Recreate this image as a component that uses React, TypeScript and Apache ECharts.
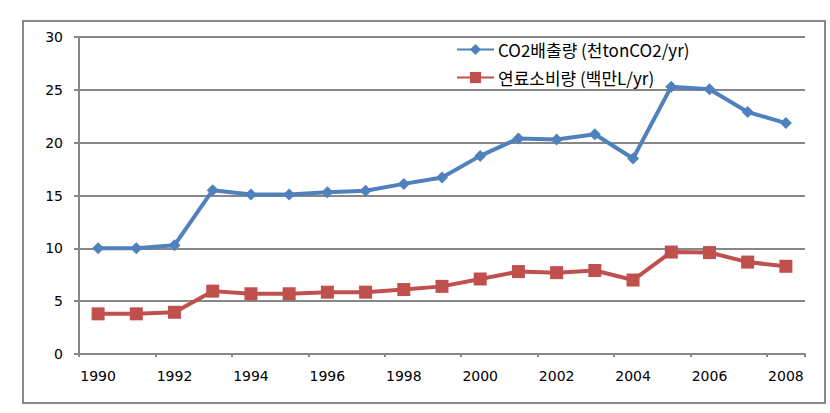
import React, { useEffect, useRef } from "react";
import * as echarts from "echarts";

const years = ["1990","1991","1992","1993","1994","1995","1996","1997","1998","1999","2000","2001","2002","2003","2004","2005","2006","2007","2008"];
const co2 = [10.0, 10.0, 10.3, 15.5, 15.1, 15.1, 15.3, 15.45, 16.1, 16.7, 18.75, 20.4, 20.3, 20.8, 18.5, 25.3, 25.05, 22.9, 21.85];
const fuel = [3.8, 3.8, 3.95, 5.95, 5.7, 5.7, 5.85, 5.85, 6.1, 6.4, 7.1, 7.8, 7.7, 7.9, 7.0, 9.65, 9.6, 8.7, 8.3];
const seriesNames = ["CO2배출량 (천tonCO2/yr)", "연료소비량 (백만L/yr)"];

export default function App() {
  const ref = useRef<HTMLDivElement>(null);
  useEffect(() => {
    const chart = echarts.init(ref.current!, null, { renderer: "svg" });
    const gray = "#878787";
    chart.setOption({
      animation: false,
      backgroundColor: "#ffffff",
      textStyle: { fontFamily: "DejaVu Sans" },
      graphic: [
        {
          type: "rect",
          shape: { x: 23, y: 21, width: 802, height: 382 },
          style: { fill: "none", stroke: "#8a8a8a", lineWidth: 2 },
          silent: true,
        },
      ],
      grid: { left: 79, right: 25, top: 37, bottom: 59 },
      legend: {
        orient: "vertical",
        left: 451,
        top: 32,
        itemWidth: 37,
        itemHeight: 14,
        itemGap: 3,
        textStyle: {
          fontFamily: "Noto Sans CJK KR",
          fontSize: 17,
          color: "#000",
          lineHeight: 17,
          padding: [8, 0, 0, -1],
        },
        data: seriesNames,
      },
      xAxis: {
        type: "category",
        data: years,
        boundaryGap: true,
        axisLine: { lineStyle: { color: gray, width: 2 } },
        axisTick: { show: true, interval: 1, length: 3, lineStyle: { color: gray, width: 2 } },
        axisLabel: { interval: 1, margin: 15, fontSize: 14, color: "#000", fontFamily: "DejaVu Sans" },
        splitLine: { show: false },
      },
      yAxis: {
        type: "value",
        min: 0,
        max: 30,
        interval: 5,
        axisLine: { show: true, lineStyle: { color: gray, width: 2 } },
        axisTick: { show: true, length: 5, lineStyle: { color: gray, width: 2 } },
        axisLabel: { margin: 16, fontSize: 14, color: "#000", fontFamily: "DejaVu Sans" },
        splitLine: { lineStyle: { color: gray, width: 2 } },
      },
      series: [
        {
          name: seriesNames[0],
          type: "line",
          data: co2,
          symbol: "diamond",
          symbolSize: 12,
          lineStyle: { color: "#4F81BD", width: 4 },
          itemStyle: { color: "#4F81BD" },
        },
        {
          name: seriesNames[1],
          type: "line",
          data: fuel,
          symbol: "rect",
          symbolSize: 13,
          lineStyle: { color: "#C0504D", width: 4 },
          itemStyle: { color: "#C0504D" },
        },
      ],
    });
    return () => chart.dispose();
  }, []);
  return (
    <div
      ref={ref}
      style={{ position: "fixed", left: 0, top: 0, width: 830, height: 413, background: "#fff" }}
    />
  );
}
